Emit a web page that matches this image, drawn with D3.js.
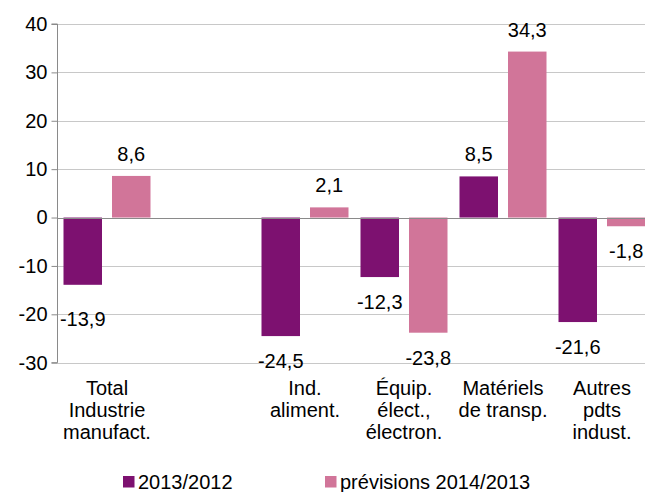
<!DOCTYPE html>
<html>
<head>
<meta charset="utf-8">
<script src="https://cdn.jsdelivr.net/npm/d3@7"></script>
<style>
  html, body { margin: 0; padding: 0; background: #fff; }
  svg { display: block; font-family: "Liberation Sans", Arial, sans-serif; }
</style>
</head>
<body>
<svg id="chart" width="645" height="492"></svg>
<script>
// Sector categories (line breaks split the axis labels)
const categories = [
  "Total\nIndustrie\nmanufact.",
  "",
  "Ind.\naliment.",
  "Équip.\nélect.,\nélectron.",
  "Matériels\nde transp.",
  "Autres\npdts\nindust."
];
const seriesNames = ["2013/2012", "prévisions 2014/2013"];
const values2013 = [-13.9, null, -24.5, -12.3, 8.5, -21.6];
const values2014 = [8.6, null, 2.1, -23.8, 34.3, -1.8];
const yTicks = [-30, -20, -10, 0, 10, 20, 30, 40];

const colors = ["#7d1170", "#d17599"];
const fontSize = 20;
// extra vertical nudge (px) for a few value labels
const labelNudge = [[9, 0], [0, 0], [0, 0], [0, 0], [0, 0], [0, 0]];

const svg = d3.select("#chart");
const frLocale = d3.formatLocale({ decimal: ",", thousands: " ", grouping: [3], currency: ["", " €"], minus: "-" });
const fmtVal = frLocale.format(".1f");
const fmtTick = frLocale.format("d");

const plotLeft = 57.5, plotTop = 24, plotBottom = 362.7;
const x0 = d3.scaleBand().domain(categories).range([plotLeft, plotLeft + 594]).padding(0);
const x1 = d3.scaleBand().domain(seriesNames).range([6, x0.bandwidth() - 6]).paddingInner(10 / 48.5).paddingOuter(0);
const y = d3.scaleLinear().domain([-30, 40]).range([plotBottom, plotTop]);

// grid lines
svg.append("g").selectAll("line").data(yTicks.filter(t => t !== 0)).join("line")
  .attr("x1", plotLeft).attr("x2", 645)
  .attr("y1", d => Math.round(y(d)) + 0.5).attr("y2", d => Math.round(y(d)) + 0.5)
  .attr("stroke", "#c8c8c8").attr("stroke-width", 1);

// bars
const rows = categories.map((c, i) => ({ cat: c, i, vals: [values2013[i], values2014[i]] }));
const groups = svg.append("g").selectAll("g").data(rows).join("g")
  .attr("transform", d => `translate(${x0(d.cat)},0)`);

groups.selectAll("rect")
  .data(d => d.vals.map((v, k) => ({ v, k, i: d.i })).filter(e => e.v !== null))
  .join("rect")
  .attr("x", e => x1(seriesNames[e.k]))
  .attr("width", x1.bandwidth())
  .attr("y", e => y(Math.max(0, e.v)))
  .attr("height", e => Math.abs(y(e.v) - y(0)))
  .attr("fill", e => colors[e.k]);

// value labels
groups.selectAll("text.val")
  .data(d => d.vals.map((v, k) => ({ v, k, i: d.i })).filter(e => e.v !== null))
  .join("text")
  .attr("class", "val")
  .attr("x", e => x1(seriesNames[e.k]) + x1.bandwidth() / 2)
  .attr("y", e => y(e.v) + (e.v >= 0 ? -22 : 25) + labelNudge[e.i][e.k])
  .attr("dy", "0.35em")
  .attr("text-anchor", "middle")
  .attr("font-size", fontSize)
  .attr("fill", "#000")
  .text(e => fmtVal(e.v));

// y axis
const yAxis = d3.axisLeft(y).tickValues(yTicks).tickSize(6).tickPadding(4).tickFormat(fmtTick);
const gy = svg.append("g").attr("transform", `translate(${plotLeft},0)`).call(yAxis);
gy.select(".domain").attr("stroke", "#8a8a8a").attr("d", `M-6,${y(40)}H0V${y(-30)}H-6`);
gy.selectAll(".tick line").attr("stroke", "#8a8a8a");
gy.selectAll(".tick text").attr("font-size", fontSize).attr("fill", "#000")
  .attr("font-family", "Liberation Sans, Arial, sans-serif");

// zero line
svg.append("line")
  .attr("x1", plotLeft).attr("x2", 645)
  .attr("y1", Math.round(y(0)) + 0.5).attr("y2", Math.round(y(0)) + 0.5)
  .attr("stroke", "#8a8a8a").attr("stroke-width", 1.2);

// category labels
const catLabels = svg.append("g").selectAll("text").data(categories).join("text")
  .attr("x", d => x0(d) + x0.bandwidth() / 2)
  .attr("y", 388)
  .attr("text-anchor", "middle")
  .attr("font-size", fontSize)
  .attr("fill", "#000");
catLabels.each(function(d) {
  const t = d3.select(this);
  d.split("\n").forEach((line, j) => {
    t.append("tspan").attr("x", t.attr("x")).attr("y", 388 + j * 21.8).attr("dy", "0.35em").text(line);
  });
});

// legend
const legendX = [123, 325];
const leg = svg.append("g").selectAll("g").data(seriesNames).join("g")
  .attr("transform", (d, i) => `translate(${legendX[i]},476)`);
leg.append("rect").attr("width", 11.5).attr("height", 11.5).attr("fill", (d, i) => colors[i]);
leg.append("text").attr("x", 15).attr("y", 6).attr("dy", "0.35em")
  .attr("font-size", fontSize).attr("fill", "#000").text(d => d);
</script>
</body>
</html>
